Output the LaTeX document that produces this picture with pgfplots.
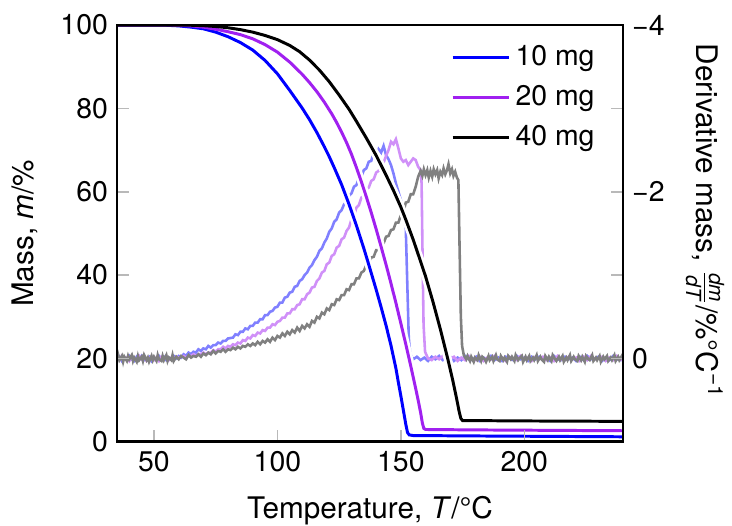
\documentclass[border=0pt]{standalone}
\usepackage{amsmath}
\usepackage{fontspec}
\setmainfont{TeX Gyre Heros}
\usepackage{pgfplots}
\pgfplotsset{compat=1.18}
\usepackage{pgfplotstable}

\definecolor{mblue}{RGB}{0,0,255}
\definecolor{mpurple}{RGB}{160,32,240}
\definecolor{dblue}{RGB}{128,128,255}
\definecolor{dpurple}{RGB}{208,144,248}
\definecolor{dgray}{RGB}{128,128,128}

% mass curves, T m
\pgfplotstableread{
T m
35 100
50 100
55 99.95
60 99.8
65 99.5
70 99.1
75 98.3
80 97.2
85 95.8
90 94.0
95 91.5
100 88.3
105 84.3
110 80.1
113 77.3
116 74.2
119 70.8
121 68.4
123 65.8
126 61.7
129 57.0
132 51.9
135 46.4
137 42.5
140 36.5
142 32.3
144 27.9
146 23.1
148 17.6
149 14.2
150 11.0
151 7.6
152 4.2
152.7 2.2
153.4 1.65
155 1.5
180 1.4
210 1.3
240 1.2
}\massA

\pgfplotstableread{
T m
35 100
55 100
60 99.9
65 99.8
70 99.5
75 99.0
80 98.4
85 97.7
90 96.7
95 95.3
100 93.5
105 91.1
110 88.2
113 86.2
116 84.0
119 81.5
122 78.7
124 76.6
126 74.3
128 71.8
130 69.0
132 65.8
134 62.4
136 58.8
138 55.0
140 51.0
142 46.8
144 42.5
146 38.0
148 33.3
150 28.4
152 23.4
154 18.2
156 12.8
157 10.0
158 7.0
158.7 4.5
159.3 3.2
160 2.95
180 2.85
210 2.75
240 2.65
}\massB

\pgfplotstableread{
T m
35 100
60 100
65 99.95
70 99.85
75 99.65
80 99.35
85 98.9
90 98.3
95 97.5
100 96.5
105 95.1
109 93.6
113 91.6
117 89.2
121 86.4
125 83.2
129 79.8
132 76.9
136 72.9
140 68.7
144 64.0
147 60.3
150 56.3
152 53.3
155 48.5
157 45.0
160 39.7
163 33.6
166 27.0
169 19.9
171 14.8
172.5 10.6
173.6 7.3
174.3 5.6
175 5.1
200 5.0
240 4.9
}\massC

% derivative curves, T d
\pgfplotstableread{
T d
35 0.02
36 -0.02
37 0.03
38 -0.01
39 0.02
40 -0.03
41 0.01
42 0.03
43 -0.02
44 0.01
45 -0.03
46 0.02
47 0.00
48 -0.02
49 0.03
50 -0.01
51 0.02
52 -0.03
53 0.01
54 -0.02
55 0.02
56 -0.01
57 0.01
58 -0.03
59 0.00
60 -0.03
61 -0.01
62 -0.05
63 -0.03
64 -0.07
65 -0.05
66 -0.08
67 -0.07
68 -0.11
69 -0.09
70 -0.12
71 -0.11
72 -0.15
73 -0.13
74 -0.16
75 -0.16
76 -0.19
77 -0.18
78 -0.21
79 -0.21
80 -0.24
82 -0.25
83 -0.29
84 -0.28
85 -0.32
86 -0.32
87 -0.36
88 -0.35
89 -0.39
90 -0.39
91 -0.43
92 -0.43
93 -0.47
94 -0.47
95 -0.52
96 -0.52
97 -0.56
98 -0.57
99 -0.61
100 -0.62
101 -0.67
102 -0.67
103 -0.73
104 -0.74
105 -0.79
106 -0.80
107 -0.86
108 -0.87
109 -0.93
110 -0.95
111 -1.00
112 -1.03
113 -1.09
114 -1.12
115 -1.18
116 -1.22
117 -1.29
118 -1.32
119 -1.39
120 -1.44
121 -1.52
122 -1.56
123 -1.64
124 -1.67
125 -1.75
126 -1.78
127 -1.85
128 -1.88
129 -1.95
130 -1.98
131 -2.06
132 -2.08
133 -2.17
134 -2.18
135 -2.26
136 -2.28
137 -2.36
138 -2.37
139 -2.47
140 -2.42
141 -2.51
142 -2.47
143 -2.55
144 -2.44
145 -2.39
146 -2.32
147 -2.22
148 -2.10
149 -2.00
150 -1.90
151 -1.78
152 -1.55
152.6 -0.9
153.2 -0.25
153.8 -0.05
155 0.01
156.5 -0.02
158 0.02
159.5 -0.01
161 0.03
162.5 -0.02
164 0.01
165.5 -0.03
167 0.02
168.5 0.00
170 -0.02
171.5 0.03
173 -0.01
174.5 0.02
176 -0.03
177.5 0.01
179 0.02
180.5 -0.02
182 0.03
183.5 -0.01
185 0.01
186.5 -0.03
188 0.02
189.5 -0.01
191 0.03
192.5 -0.02
194 0.00
195.5 0.02
197 -0.03
198.5 0.01
200 -0.01
201.5 0.03
203 -0.02
204.5 0.01
206 -0.02
207.5 0.02
209 -0.01
210.5 0.03
212 -0.03
213.5 0.01
215 0.02
216.5 -0.02
218 0.01
219.5 -0.01
221 0.03
222.5 -0.02
224 0.02
225.5 -0.03
227 0.01
228.5 0.00
230 -0.02
231.5 0.03
233 -0.01
234.5 0.02
236 -0.03
237.5 0.01
239 0.02
240 -0.01
}\derA

\pgfplotstableread{
T d
35 -0.01
36 0.02
37 -0.03
38 0.01
39 -0.01
40 0.03
41 -0.02
42 0.00
43 0.02
44 -0.03
45 0.01
46 -0.02
47 0.03
48 0.00
49 -0.02
50 0.02
51 -0.01
52 0.03
53 -0.02
54 0.01
55 -0.03
56 0.02
57 -0.01
58 0.01
59 -0.02
60 -0.01
62 -0.03
63 -0.01
64 -0.03
65 -0.03
66 -0.05
67 -0.03
68 -0.05
69 -0.05
70 -0.07
71 -0.05
72 -0.07
73 -0.07
74 -0.10
75 -0.08
76 -0.11
77 -0.11
78 -0.14
79 -0.12
80 -0.15
81 -0.14
82 -0.17
83 -0.16
84 -0.19
85 -0.18
86 -0.22
87 -0.21
88 -0.25
89 -0.24
90 -0.28
91 -0.27
92 -0.31
93 -0.30
94 -0.34
95 -0.33
96 -0.37
97 -0.37
98 -0.41
99 -0.40
100 -0.44
101 -0.45
102 -0.49
103 -0.49
104 -0.54
105 -0.54
106 -0.59
107 -0.59
108 -0.64
109 -0.65
110 -0.71
111 -0.71
112 -0.77
113 -0.79
114 -0.85
115 -0.86
116 -0.93
117 -0.96
118 -1.03
119 -1.05
120 -1.13
121 -1.15
122 -1.23
123 -1.25
124 -1.33
125 -1.35
126 -1.43
127 -1.45
128 -1.53
129 -1.57
130 -1.67
131 -1.71
132 -1.81
133 -1.84
134 -1.93
135 -1.95
136 -2.03
137 -2.05
138 -2.13
139 -2.15
140 -2.23
141 -2.25
142 -2.33
143 -2.35
144 -2.43
145 -2.50
146 -2.60
147 -2.57
148 -2.63
149 -2.52
150 -2.40
151 -2.36
152 -2.38
153 -2.32
154 -2.36
155 -2.40
156 -2.38
157 -2.30
158 -2.26
158.4 -2.1
158.8 -1.2
159.2 -0.4
159.8 -0.08
161 0.00
162.5 0.02
164 -0.02
165.5 0.01
167 -0.03
168.5 0.02
170 0.00
171.5 -0.02
173 0.03
174.5 -0.01
176 0.02
177.5 -0.03
179 0.01
180.5 0.02
182 -0.02
183.5 0.03
185 -0.01
186.5 0.01
188 -0.03
189.5 0.02
191 -0.01
192.5 0.03
194 -0.02
195.5 0.00
197 0.02
198.5 -0.03
200 0.01
201.5 -0.01
203 0.03
204.5 -0.02
206 0.01
207.5 -0.02
209 0.02
210.5 -0.01
212 0.03
213.5 -0.03
215 0.01
216.5 0.02
218 -0.02
219.5 0.01
221 -0.01
222.5 0.03
224 -0.02
225.5 0.02
227 -0.03
228.5 0.01
230 0.00
231.5 -0.02
233 0.03
234.5 -0.01
236 0.02
237.5 -0.03
239 0.01
240 0.02
}\derB

\pgfplotstableread{
T d
35 0.03
35.5 -0.04
36 0.02
37 -0.03
37.5 0.04
38 -0.02
39 0.03
39.5 -0.03
40 0.01
41 -0.04
41.5 0.03
42 -0.01
43 0.04
43.5 -0.03
44 0.02
45 -0.02
45.5 0.03
46 -0.04
47 0.02
47.5 -0.01
48 0.04
49 -0.03
49.5 0.02
50 -0.02
51 0.03
51.5 -0.04
52 0.01
53 0.03
53.5 -0.03
54 0.02
55 -0.04
55.5 0.03
56 -0.01
57 0.02
57.5 -0.04
58 0.03
59 -0.02
60 0.01
61 -0.03
62 -0.01
63 0.01
64 -0.04
65 -0.01
66 -0.03
67 -0.02
68 -0.05
69 -0.02
70 -0.06
71 -0.04
72 -0.07
73 -0.05
74 -0.09
75 -0.06
76 -0.09
77 -0.08
78 -0.11
79 -0.08
80 -0.11
81 -0.10
82 -0.13
83 -0.11
84 -0.14
85 -0.12
86 -0.15
87 -0.14
88 -0.17
89 -0.15
90 -0.18
91 -0.16
92 -0.20
93 -0.17
94 -0.21
95 -0.19
96 -0.23
97 -0.20
98 -0.25
99 -0.22
100 -0.27
101 -0.25
102 -0.30
103 -0.27
104 -0.32
105 -0.29
106 -0.34
107 -0.31
108 -0.37
109 -0.33
110 -0.39
111 -0.36
112 -0.41
113 -0.38
114 -0.45
115 -0.43
116 -0.50
117 -0.48
118 -0.55
119 -0.53
120 -0.60
121 -0.58
122 -0.65
123 -0.64
124 -0.71
125 -0.70
126 -0.76
127 -0.76
128 -0.83
129 -0.82
130 -0.89
131 -0.89
132 -0.96
133 -0.96
134 -1.03
135 -1.05
136 -1.12
137 -1.13
138 -1.21
139 -1.22
140 -1.30
141 -1.30
142 -1.38
143 -1.38
144 -1.46
145 -1.47
146 -1.54
147 -1.55
148 -1.63
149 -1.63
150 -1.72
151 -1.75
152 -1.87
153 -1.88
154 -1.97
155 -1.97
156 -2.06
157 -2.18
158 -2.25
158.7 -2.19
159.3 -2.27
160 -2.20
160.7 -2.26
161.3 -2.17
162 -2.25
162.7 -2.18
163.3 -2.27
164 -2.21
164.7 -2.26
165.3 -2.16
166 -2.24
166.7 -2.20
167.3 -2.28
168 -2.21
168.7 -2.26
169.3 -2.33
170 -2.22
170.7 -2.27
171.3 -2.19
172 -2.24
172.7 -2.17
173.3 -2.14
173.8 -1.3
174.3 -0.5
174.8 -0.15
175.5 -0.04
176.5 0.01
177 -0.03
178 0.03
178.5 -0.02
179.5 0.04
180 -0.01
181 0.02
181.5 -0.04
182.5 0.03
183 -0.02
184 0.01
184.5 0.04
185.5 -0.03
186 0.02
187 -0.02
187.5 0.03
188.5 -0.04
189 0.01
190 0.03
190.5 -0.03
191.5 0.02
192 -0.01
193 0.04
193.5 -0.03
194.5 0.01
195 -0.02
196 0.03
196.5 -0.04
197.5 0.02
198 0.00
199 -0.03
199.5 0.04
200.5 -0.02
201 0.02
202 -0.03
202.5 0.03
203.5 -0.01
204 0.02
205 -0.04
205.5 0.03
206.5 -0.02
207 0.01
208 0.04
208.5 -0.03
209.5 0.02
210 -0.02
211 0.03
211.5 -0.04
212.5 0.01
213 0.03
214 -0.02
214.5 0.02
215.5 -0.03
216 0.04
217 -0.01
217.5 0.02
218.5 -0.04
219 0.03
220 -0.02
220.5 0.01
221.5 0.03
222 -0.03
223 0.02
223.5 -0.02
224.5 0.04
225 -0.03
226 0.01
226.5 0.02
227.5 -0.04
228 0.03
229 -0.01
229.5 0.02
230.5 -0.03
231 0.04
232 -0.02
232.5 0.01
233.5 -0.03
234 0.03
235 -0.01
235.5 0.02
236.5 -0.04
237 0.03
238 -0.02
238.5 0.02
239.5 -0.03
240 0.01
}\derC

\pgfplotsset{/pgf/number format/assume math mode=true}

\begin{document}
\begin{tikzpicture}[font=\fontsize{11}{13}\selectfont]
% right axis: derivative mass, drawn first so that the mass curves lie on top
\begin{axis}[
  scale only axis, width=196pt, height=161.4pt,
  xmin=35, xmax=240,
  ymin=-4, ymax=1, y dir=reverse,
  axis x line=none,
  axis y line*=right,
  axis line style={line width=1.05pt},
  ytick={-4,-2,0}, yticklabels={−4,−2,0},
  major tick length=4.7pt,
  major tick style={color=gray!55, line width=0.6pt},
  every axis y label/.style={at={(axis description cs:1.162,0.53)}, anchor=center, rotate=-90},
  ylabel={\fontsize{11.5}{13}\selectfont Derivative mass, $\frac{\textit{dm}}{\textit{dT}}$/\%°C\textsuperscript{−1}},
]
\addplot[dblue, line width=1pt] table[x=T, y=d] {\derA};
\addplot[dpurple, line width=1pt] table[x=T, y=d] {\derB};
\addplot[dgray, line width=1pt] table[x=T, y=d] {\derC};
\end{axis}

% left axis: mass
\begin{axis}[
  scale only axis, width=196pt, height=161.4pt,
  xmin=35, xmax=240,
  ymin=0, ymax=100,
  axis on top,
  axis line style={line width=1.05pt},
  xtick={50,100,150,200},
  ytick={0,20,40,60,80,100},
  xtick pos=bottom,
  major tick length=4.7pt,
  major tick style={color=gray!55, line width=0.6pt},
  every axis y label/.style={at={(axis description cs:-0.182,0.5)}, anchor=center, rotate=90},
  every axis x label/.style={at={(axis description cs:0.5,-0.185)}, anchor=base},
  xlabel={\fontsize{11.5}{13}\selectfont Temperature, \textit{T}/°C},
  ylabel={\fontsize{11.5}{13}\selectfont Mass, \textit{m}/\%},
  legend style={draw=none, fill=none, at={(rel axis cs:0.644,0.978)}, anchor=north west,
    row sep=2.2pt, nodes={inner xsep=1.8pt, inner ysep=2pt}},
  legend cell align=left,
  legend image code/.code={\draw[#1] (0pt,0pt) -- (22pt,0pt);},
]
\addplot[white, line width=3.2pt, forget plot] table[x=T, y=m] {\massA};
\addplot[white, line width=3.2pt, forget plot] table[x=T, y=m] {\massB};
\addplot[white, line width=3.2pt, forget plot] table[x=T, y=m] {\massC};
\addplot[mblue, line width=1.15pt] table[x=T, y=m] {\massA};
\addplot[mpurple, line width=1.15pt] table[x=T, y=m] {\massB};
\addplot[black, line width=1.15pt] table[x=T, y=m] {\massC};
\legend{10 mg, 20 mg, 40 mg}
\end{axis}
\pgfresetboundingbox
\path[use as bounding box] (-45.3pt,-32.6pt) rectangle (238.2pt,171.1pt);
\end{tikzpicture}
\end{document}
